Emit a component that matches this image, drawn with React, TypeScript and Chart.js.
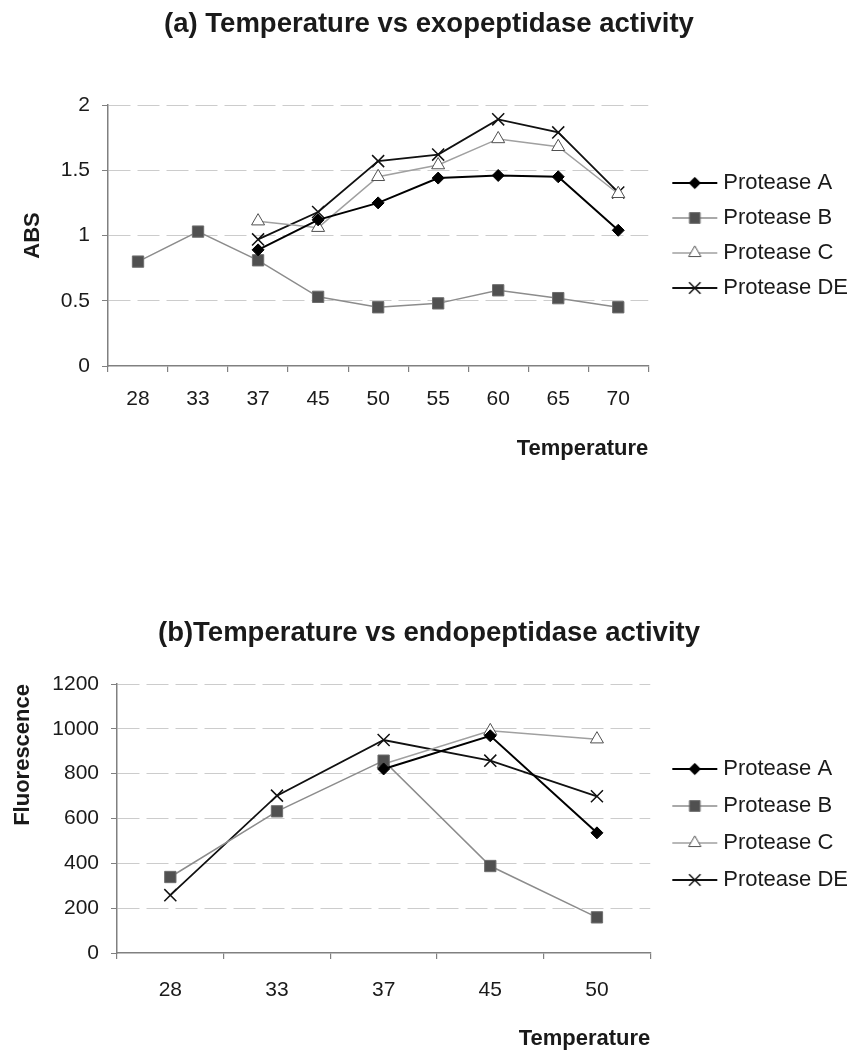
import React, { useEffect, useRef } from "react";
import { Chart, registerables } from "chart.js";
import { drawPoint } from "chart.js/helpers";

Chart.register(...registerables);

// ---------- data ----------
const seriesNames = ["Protease A", "Protease B", "Protease C", "Protease DE"];

const exoTemps = ["28", "33", "37", "45", "50", "55", "60", "65", "70"];
const exoA = [null, null, 0.89, 1.12, 1.25, 1.44, 1.46, 1.45, 1.04];
const exoB = [0.8, 1.03, 0.81, 0.53, 0.45, 0.48, 0.58, 0.52, 0.45];
const exoC = [null, null, 1.11, 1.06, 1.45, 1.54, 1.74, 1.68, 1.32];
const exoDE = [null, null, 0.97, 1.18, 1.57, 1.62, 1.89, 1.79, 1.33];

const endoTemps = ["28", "33", "37", "45", "50"];
const endoA = [null, null, 821, 969, 536];
const endoB = [339, 632, 858, 388, 159];
const endoC = [null, null, 843, 991, 954];
const endoDE = [258, 702, 950, 858, 699];

const titleA = "(a) Temperature vs exopeptidase activity";
const titleB = "(b)Temperature vs endopeptidase activity";
const xTitle = "Temperature";
const yTitleA = "ABS";
const yTitleB = "Fluorescence";

// ---------- styles ----------
const FONT = "'Liberation Sans', Arial, Helvetica, sans-serif";
const TEXT = "#1a1a1a";
const AXIS = "#808080";
const GRID = "#cccccc";
const LEGEND_FONT = 22;
const LINE_START = 672;
const LINE_END = 717;
const TEXT_START = 723;

const styles = [
  { line: "#000000", lineWidth: 2, pointStyle: "rectRot", radius: 6, bg: "#000000", border: "#000000", bw: 1 },
  { line: "#8c8c8c", lineWidth: 1.5, pointStyle: "rect", radius: 8, bg: "#505050", border: "#6e6e6e", bw: 1 },
  { line: "#a0a0a0", lineWidth: 1.5, pointStyle: "triangle", radius: 7.5, bg: "#ffffff", border: "#505050", bw: 1 },
  { line: "#111111", lineWidth: 1.8, pointStyle: "crossRot", radius: 8.5, bg: "#111111", border: "#111111", bw: 1.5 },
];

// legend icon: line with marker, placed so that the visible part sits at LINE_START..LINE_END
function makeIcon(s: any, center: number) {
  const half = Math.max(center - LINE_START, LINE_END - center) + 2;
  const w = Math.ceil(half * 2);
  const origin = center - w / 2;
  const c = document.createElement("canvas");
  c.width = w;
  c.height = 22;
  const ctx = c.getContext("2d")!;
  ctx.strokeStyle = s.line;
  ctx.lineWidth = s.lineWidth;
  ctx.beginPath();
  ctx.moveTo(LINE_START - origin, 11);
  ctx.lineTo(LINE_END - origin, 11);
  ctx.stroke();
  ctx.fillStyle = s.bg;
  ctx.strokeStyle = s.border;
  ctx.lineWidth = s.bw;
  drawPoint(
    ctx,
    { pointStyle: s.pointStyle, radius: s.radius * 0.95, borderWidth: s.bw, rotation: 0 } as any,
    (LINE_START + LINE_END) / 2 - origin,
    11
  );
  return c;
}

function buildConfig(opts: any) {
  const {
    labels, series, max, step, title, yTitle, yTitleAlign, yTitlePad,
    titlePadTop, titlePadBottom, yWidth, areaRight, padRight,
    xHeight, xTickPad, xTitlePadBottom, legendPad, legendShift,
  } = opts;
  const boxWidth = TEXT_START - LEGEND_FONT / 2 - (areaRight + legendPad);
  const iconCenter = areaRight + legendPad + boxWidth / 2;
  const icons = styles.map((s) => makeIcon(s, iconCenter));
  return {
    type: "line",
    data: {
      labels,
      datasets: series.map((d: any, i: number) => ({
        label: seriesNames[i],
        data: d,
        borderColor: styles[i].line,
        borderWidth: styles[i].lineWidth,
        pointStyle: styles[i].pointStyle,
        pointRadius: styles[i].radius,
        pointBackgroundColor: styles[i].bg,
        pointBorderColor: styles[i].border,
        pointBorderWidth: styles[i].bw,
        tension: 0,
        fill: false,
        spanGaps: false,
      })),
    },
    options: {
      responsive: false,
      animation: false,
      layout: { padding: { left: 0, right: padRight, top: 0, bottom: 0 } },
      plugins: {
        title: {
          display: true,
          text: title,
          color: TEXT,
          font: { family: FONT, size: 27.5, weight: "bold", lineHeight: 1.2 },
          padding: { top: titlePadTop, bottom: titlePadBottom },
        },
        legend: {
          display: true,
          position: "right",
          align: "center",
          fullSize: false,
          title: {
            display: legendShift > 0,
            text: "",
            padding: 0,
            font: { size: 10, lineHeight: (legendShift * 2) / 10 },
          },
          labels: {
            usePointStyle: true,
            pointStyleWidth: boxWidth,
            padding: legendPad,
            color: TEXT,
            font: { family: FONT, size: LEGEND_FONT },
            generateLabels: (chart: any) =>
              chart.data.datasets.map((ds: any, i: number) => ({
                text: ds.label,
                pointStyle: icons[i],
                datasetIndex: i,
                hidden: false,
                fontColor: TEXT,
                lineWidth: 0,
                fillStyle: "transparent",
                strokeStyle: "transparent",
              })),
          },
        },
        tooltip: { enabled: false },
      },
      scales: {
        x: {
          type: "category",
          offset: true,
          afterFit: (s: any) => { s.height = xHeight; },
          grid: {
            display: true,
            offset: true,
            drawOnChartArea: false,
            drawTicks: true,
            tickLength: 6,
            color: AXIS,
            tickColor: AXIS,
            lineWidth: 1.2,
          },
          border: { display: true, color: AXIS, width: 1.5 },
          ticks: { color: TEXT, font: { family: FONT, size: 21 }, padding: xTickPad, maxRotation: 0, autoSkip: false },
          title: {
            display: true,
            text: xTitle,
            align: "end",
            color: TEXT,
            font: { family: FONT, size: 22, weight: "bold", lineHeight: 1.2 },
            padding: { top: 0, bottom: xTitlePadBottom },
          },
        },
        y: {
          type: "linear",
          position: "left",
          min: 0,
          max,
          afterFit: (s: any) => { s.width = yWidth; },
          grid: {
            display: true,
            drawOnChartArea: true,
            drawTicks: true,
            tickLength: 6,
            color: (ctx: any) => (ctx.tick && ctx.tick.value === 0 ? "rgba(0,0,0,0)" : GRID),
            tickColor: AXIS,
            lineWidth: 1,
          },
          border: { display: true, color: AXIS, width: 1.5, dash: [22, 7] },
          ticks: {
            stepSize: step,
            color: TEXT,
            font: { family: FONT, size: 21 },
            padding: 12,
            callback: (v: any) => String(v),
          },
          title: {
            display: true,
            text: yTitle,
            align: yTitleAlign,
            color: TEXT,
            font: { family: FONT, size: 22, weight: "bold", lineHeight: 1.2 },
            padding: { top: yTitlePad, bottom: 0 },
          },
        },
      },
    },
  };
}

export default function App() {
  const refA = useRef<HTMLCanvasElement | null>(null);
  const refB = useRef<HTMLCanvasElement | null>(null);

  useEffect(() => {
    const a = new Chart(
      refA.current!,
      buildConfig({
        labels: exoTemps,
        series: [exoA, exoB, exoC, exoDE],
        max: 2,
        step: 0.5,
        title: titleA,
        yTitle: yTitleA,
        yTitleAlign: "center",
        yTitlePad: 20,
        titlePadTop: 8,
        titlePadBottom: 64,
        yWidth: 108,
        areaRight: 648,
        padRight: 6,
        xHeight: 114,
        xTickPad: 15,
        xTitlePadBottom: 18,
        legendPad: 13,
        legendShift: 0,
      }) as any
    );
    const b = new Chart(
      refB.current!,
      buildConfig({
        labels: endoTemps,
        series: [endoA, endoB, endoC, endoDE],
        max: 1200,
        step: 200,
        title: titleB,
        yTitle: yTitleB,
        yTitleAlign: "end",
        yTitlePad: 10,
        titlePadTop: 57,
        titlePadBottom: 34,
        yWidth: 117,
        areaRight: 650,
        padRight: 6,
        xHeight: 102,
        xTickPad: 19,
        xTitlePadBottom: 3,
        legendPad: 15,
        legendShift: 6,
      }) as any
    );
    return () => {
      a.destroy();
      b.destroy();
    };
  }, []);

  return (
    <div style={{ position: "absolute", left: 0, top: 0, width: 864, height: 1055, background: "#ffffff" }}>
      <canvas ref={refA} width={864} height={480} style={{ position: "absolute", left: 0, top: 0 }} />
      <canvas ref={refB} width={864} height={495} style={{ position: "absolute", left: 0, top: 560 }} />
    </div>
  );
}
